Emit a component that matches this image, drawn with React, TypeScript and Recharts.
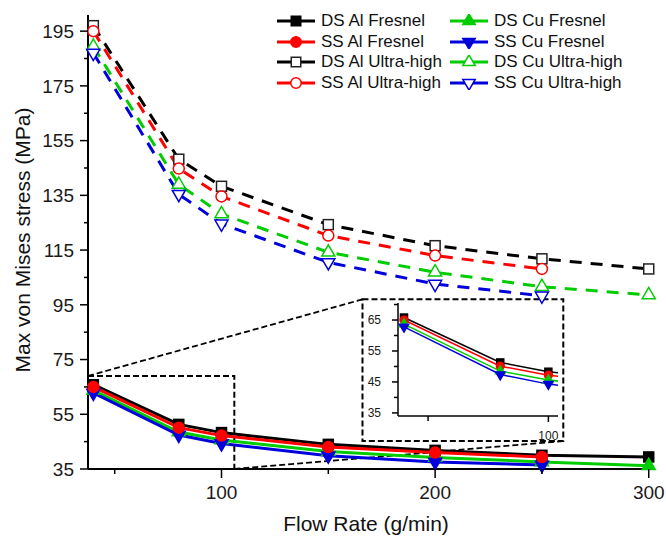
import React from 'react'
import {LineChart, Line, XAxis, YAxis, Legend, ReferenceArea, ReferenceLine} from 'recharts'

const flowRate = [40, 80, 100, 150, 200, 250, 300]

const dsAlFresnel = [65.8, 51.3, 48.3, 44, 41.8, 40, 39.4]
const ssAlFresnel = [65, 50.1, 47.2, 43, 41, 39.4, null]
const dsCuFresnel = [63.7, 48.5, 45.6, 41.4, 39.2, 37.6, 36.2]
const ssCuFresnel = [62.8, 47.4, 44.3, 39.8, 37.6, 36.5, null]

const dsAlUltra = [197, 148.2, 138.3, 124.3, 116.6, 111.8, 108.1]
const ssAlUltra = [195, 144.8, 134.6, 120.3, 113, 108.1, null]
const dsCuUltra = [189.4, 139, 128.2, 114.2, 106.9, 101.6, 98.6]
const ssCuUltra = [187, 135.4, 124.6, 110.5, 102.6, 98.3, null]

const yTicks = [35, 45, 55, 65, 75, 85, 95, 105, 115, 125, 135, 145, 155, 165, 175, 185, 195]
const yLabels = [35, 55, 75, 95, 115, 135, 155, 175, 195]
const xTicks = [50, 100, 150, 200, 250, 300]
const xLabels = [100, 200, 300]

const insetYTicks = [35, 40, 45, 50, 55, 60, 65, 70]
const insetYLabels = [35, 45, 55, 65]
const insetXTicks = [50, 100]
const insetXLabels = [100]

const rows = flowRate.map((f, i) => ({
    flow: f,
    dsAlF: dsAlFresnel[i],
    ssAlF: ssAlFresnel[i],
    dsCuF: dsCuFresnel[i],
    ssCuF: ssCuFresnel[i],
    dsAlU: dsAlUltra[i],
    ssAlU: ssAlUltra[i],
    dsCuU: dsCuUltra[i],
    ssCuU: ssCuUltra[i],
}))

const FONT = '"Liberation Sans", Arial, sans-serif'
const BLACK = '#000000'
const RED = '#ff0000'
const GREEN = '#00cc00'
const BLUE = '#0000dd'

type Shape = 'square' | 'circle' | 'up' | 'down'

interface SeriesDef {
    key: string
    name: string
    color: string
    shape: Shape
    open: boolean
}

const series: SeriesDef[] = [
    {key: 'dsAlF', name: 'DS Al Fresnel', color: BLACK, shape: 'square', open: false},
    {key: 'ssAlF', name: 'SS Al Fresnel', color: RED, shape: 'circle', open: false},
    {key: 'dsAlU', name: 'DS Al Ultra-high', color: BLACK, shape: 'square', open: true},
    {key: 'ssAlU', name: 'SS Al Ultra-high', color: RED, shape: 'circle', open: true},
    {key: 'dsCuF', name: 'DS Cu Fresnel', color: GREEN, shape: 'up', open: false},
    {key: 'ssCuF', name: 'SS Cu Fresnel', color: BLUE, shape: 'down', open: false},
    {key: 'dsCuU', name: 'DS Cu Ultra-high', color: GREEN, shape: 'up', open: true},
    {key: 'ssCuU', name: 'SS Cu Ultra-high', color: BLUE, shape: 'down', open: true},
]

const drawOrder = ['dsAlU', 'ssAlU', 'dsCuU', 'ssCuU', 'dsAlF', 'dsCuF', 'ssCuF', 'ssAlF']

function Marker({cx, cy, shape, color, open, scale = 1}: {cx: number, cy: number, shape: Shape, color: string, open: boolean, scale?: number}) {
    const fill = open ? '#fff' : color
    const sw = 1.5
    if (shape === 'square') {
        const s = 10 * scale
        return <rect x={cx - s / 2} y={cy - s / 2} width={s} height={s} fill={fill} stroke={open ? '#222' : color} strokeWidth={sw}/>
    }
    if (shape === 'circle') {
        return <circle cx={cx} cy={cy} r={5.5 * scale} fill={fill} stroke={color} strokeWidth={sw}/>
    }
    const r = 7.5 * scale
    const d = shape === 'up' ? 1 : -1
    const pts = `${cx},${cy - d * r} ${cx - 0.87 * r},${cy + d * 0.5 * r} ${cx + 0.87 * r},${cy + d * 0.5 * r}`
    return <polygon points={pts} fill={fill} stroke={color} strokeWidth={sw}/>
}

const makeDot = (s: SeriesDef, scale: number) => (props: any) => {
    const {cx, cy, index, value} = props
    if (cx == null || cy == null || value == null) return <g key={`${s.key}-${index}`}/>
    return <g key={`${s.key}-${index}`}><Marker cx={cx} cy={cy} shape={s.shape} color={s.color} open={s.open} scale={scale}/></g>
}

const makeYTick = (labels: number[], major: number, minor: number, size: number, margin: number, fontSize: number) => (props: any) => {
    const {x, y, payload} = props
    const axisX = x + size + margin
    const isMajor = labels.includes(payload.value)
    return (
        <g>
            <line x1={axisX - (isMajor ? major : minor)} x2={axisX} y1={y} y2={y} stroke="#000" strokeWidth={1.5}/>
            {isMajor && <text x={x} y={y} dy="0.36em" textAnchor="end" fontSize={fontSize} fontFamily={FONT} fill="#1a1a1a">{payload.value}</text>}
        </g>
    )
}

const makeXTick = (labels: number[], major: number, minor: number, size: number, margin: number, fontSize: number) => (props: any) => {
    const {x, y, payload} = props
    const axisY = y - size - margin
    const isMajor = labels.includes(payload.value)
    return (
        <g>
            <line x1={x} x2={x} y1={axisY} y2={axisY + (isMajor ? major : minor)} stroke="#000" strokeWidth={1.5}/>
            {isMajor && <text x={x} y={y} dy="0.71em" textAnchor="middle" fontSize={fontSize} fontFamily={FONT} fill="#1a1a1a">{payload.value}</text>}
        </g>
    )
}

function LegendIcon({s}: {s: SeriesDef}) {
    return (
        <svg width={40} height={14} style={{display: 'block'}}>
            <line x1={1} x2={39} y1={7} y2={7} stroke={s.color} strokeWidth={3}/>
            <Marker cx={20} cy={7} shape={s.shape} color={s.color} open={s.open} scale={0.95}/>
        </svg>
    )
}

function LegendBox() {
    const cols = [series.slice(0, 4), series.slice(4)]
    return (
        <div style={{display: 'flex', fontFamily: FONT, fontSize: 17, color: '#111'}}>
            {cols.map((col, ci) => (
                <div key={ci} style={{width: ci === 0 ? 173 : 200}}>
                    {col.map(s => (
                        <div key={s.key} style={{display: 'flex', alignItems: 'center', height: 20.6}}>
                            <LegendIcon s={s}/>
                            <span style={{marginLeft: 5, whiteSpace: 'nowrap'}}>{s.name}</span>
                        </div>
                    ))}
                </div>
            ))}
        </div>
    )
}

export default function App() {
    const byKey = Object.fromEntries(series.map(s => [s.key, s]))
    return (
        <div style={{position: 'absolute', left: 0, top: 0, width: 666, height: 540, background: '#fff'}}>
            <LineChart width={666} height={540} data={rows} margin={{top: 15, right: 13, bottom: 31, left: 28}}>
                <XAxis dataKey="flow" type="number" domain={[37.5, 302]} ticks={xTicks} interval={0}
                       axisLine={{stroke: '#000', strokeWidth: 2}} tickLine={false} tickSize={9} tickMargin={8}
                       height={40} tick={makeXTick(xLabels, 9, 5, 9, 8, 19)}/>
                <YAxis type="number" domain={[35, 200.9]} ticks={yTicks} interval={0}
                       axisLine={{stroke: '#000', strokeWidth: 2}} tickLine={false} tickSize={8} tickMargin={6}
                       width={60} tick={makeYTick(yLabels, 8, 4, 8, 6, 19)}/>
                <ReferenceArea x1={37.5} x2={106} y1={35} y2={69} fill="none" stroke="#000"
                               strokeWidth={2} strokeDasharray="6 3" ifOverflow="visible"/>
                <ReferenceArea x1={166} x2={260} y1={45.2} y2={97} fill="#fff" fillOpacity={1} stroke="#000"
                               strokeWidth={2} strokeDasharray="6 3" ifOverflow="visible"/>
                <ReferenceLine segment={[{x: 37.5, y: 69}, {x: 166, y: 97}]} stroke="#000" strokeWidth={1.8}
                               strokeDasharray="6 3" ifOverflow="visible"/>
                <ReferenceLine segment={[{x: 106, y: 35}, {x: 260, y: 45.2}]} stroke="#000" strokeWidth={1.8}
                               strokeDasharray="6 3" ifOverflow="visible"/>
                {drawOrder.map(k => {
                    const s = byKey[k]
                    return (
                        <Line key={k} dataKey={k} name={s.name} stroke={s.color} strokeWidth={3}
                              strokeDasharray={s.open ? '12 9' : undefined}
                              dot={makeDot(s, 1)} activeDot={false} isAnimationActive={false}/>
                    )
                })}
                <Legend layout="vertical" align="center" verticalAlign="middle"
                        wrapperStyle={{left: 276, top: 11, width: 390}} content={() => <LegendBox/>}/>
            </LineChart>
            <div style={{position: 'absolute', left: 23, top: 240, transform: 'translate(-50%, -50%) rotate(-90deg)',
                fontFamily: FONT, fontSize: 21, color: '#111', whiteSpace: 'nowrap'}}>
                Max von Mises stress (MPa)
            </div>
            <div style={{position: 'absolute', left: 366, top: 524, transform: 'translate(-50%, -50%)',
                fontFamily: FONT, fontSize: 21, color: '#111', whiteSpace: 'nowrap'}}>
                Flow Rate (g/min)
            </div>
            <div style={{position: 'absolute', left: 363, top: 299}}>
                <LineChart width={200} height={156} data={rows} margin={{top: 4, right: 5, bottom: 19, left: 5}}>
                    <XAxis dataKey="flow" type="number" domain={[37.5, 104]} allowDataOverflow ticks={insetXTicks}
                           interval={0} axisLine={{stroke: '#000', strokeWidth: 1.5}} tickLine={false}
                           tickSize={6} tickMargin={9} height={20} tick={makeXTick(insetXLabels, 6, 5, 6, 9, 12)}/>
                    <YAxis type="number" domain={[34, 70.5]} allowDataOverflow ticks={insetYTicks} interval={0}
                           axisLine={{stroke: '#000', strokeWidth: 1.5}} tickLine={false} tickSize={6} tickMargin={11}
                           width={30} tick={makeYTick(insetYLabels, 6, 4, 6, 11, 12)}/>
                    {['dsAlF', 'ssAlF', 'dsCuF', 'ssCuF'].map(k => {
                        const s = byKey[k]
                        return (
                            <Line key={k} dataKey={k} stroke={s.color} strokeWidth={1.5}
                                  dot={makeDot(s, 0.7)} activeDot={false} isAnimationActive={false}/>
                        )
                    })}
                </LineChart>
            </div>
        </div>
    )
}
